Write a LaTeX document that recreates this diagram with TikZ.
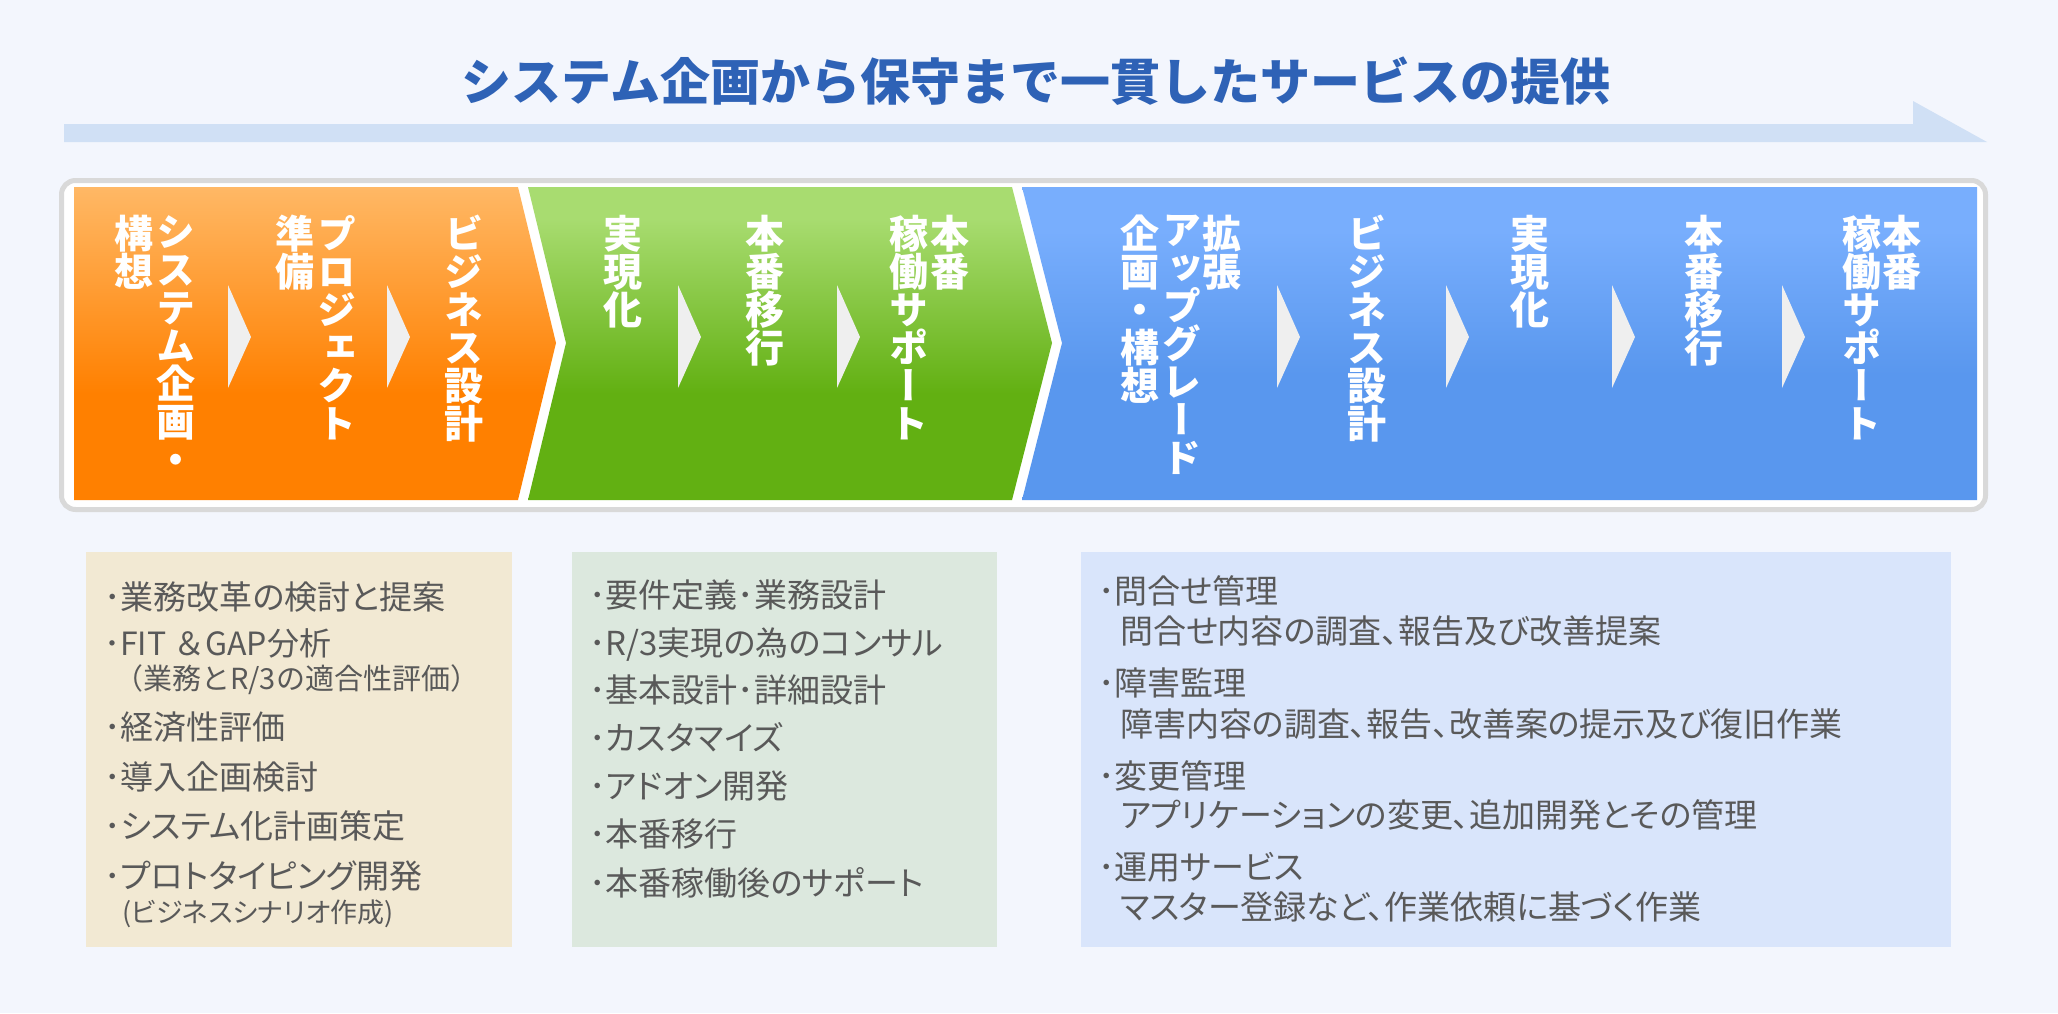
\documentclass[tikz,border=0pt]{standalone}
\usepackage{fontspec}
\setmainfont{Noto Sans CJK JP}
\newfontfamily\vjp{Noto Sans CJK JP}[RawFeature=+vert]
\newfontfamily\memojp{Noto Sans CJK JP}[RawFeature=+palt]

\definecolor{pagebg}{HTML}{F3F6FD}
\definecolor{titleblue}{HTML}{2E62B6}
\definecolor{bandblue}{HTML}{D0E0F5}
\definecolor{framegray}{HTML}{D9D9D9}
\definecolor{chevgray}{HTML}{EFEFEF}
\definecolor{orT}{HTML}{FFB865}
\definecolor{orB}{HTML}{FF8000}
\definecolor{grT}{HTML}{A8DC70}
\definecolor{grB}{HTML}{62B012}
\definecolor{blT}{HTML}{78AEFD}
\definecolor{blB}{HTML}{5997EE}
\definecolor{memoA}{HTML}{F2E9D3}
\definecolor{memoB}{HTML}{DCE8DE}
\definecolor{memoC}{HTML}{D9E5FB}
\definecolor{memotext}{HTML}{595959}

\pgfdeclareverticalshading{orangefade}{100bp}{color(0bp)=(orB); color(42bp)=(orB); color(75bp)=(orT); color(100bp)=(orT)}
\pgfdeclareverticalshading{greenfade}{100bp}{color(0bp)=(grB); color(42bp)=(grB); color(70bp)=(grT); color(100bp)=(grT)}
\pgfdeclareverticalshading{bluefade}{100bp}{color(0bp)=(blB); color(45bp)=(blB); color(68bp)=(blT); color(100bp)=(blT)}

\newcommand{\vstackfont}{\vjp\bfseries\fontsize{39}{38}\selectfont\setlength{\lineskiplimit}{-50pt}}

\tikzset{
    vcol/.style={anchor=north, inner sep=0pt, align=center, text=white, font=\vstackfont},
    memo/.style={anchor=base west, inner sep=0pt, text=memotext, font=\memojp\fontsize{33}{33}\selectfont},
    memosmall/.style={memo, font=\fontsize{29}{29}\selectfont},
    chev/.style={fill=chevgray},
}

\begin{document}
\begin{tikzpicture}[x=1pt, y=-1pt]
    \fill[pagebg] (0,0) rectangle (2058,1013);

    % title and long arrow
    \node[font=\bfseries\fontsize{50}{50}\selectfont, text=titleblue, inner sep=0pt] (title) at (1036,81) {システム企画から保守まで一貫したサービスの提供};
    \fill[bandblue] (64,124) -- (1913,124) -- (1913,101) -- (1987,142) -- (64,142) -- cycle;

    % phase band
    \draw[framegray, line width=5pt, fill=white, rounded corners=14pt] (61.5,180.5) rectangle (1985.5,509.5);
    \shade[shading=orangefade] (74,187) -- (518,187) -- (556,343) -- (518,500) -- (74,500) -- cycle;
    \shade[shading=greenfade] (528,187) -- (1012,187) -- (1052,343) -- (1012,500) -- (528,500) -- (566,343) -- cycle;
    \shade[shading=bluefade] (1022,187) -- (1977,187) -- (1977,500) -- (1022,500) -- (1062,343) -- cycle;

    \foreach \x in {228,387,678,837,1277,1446,1612,1782}
        \fill[chev] (\x,285) -- (\x+23,337) -- (\x,388) -- cycle;

    \node[vcol] (plan) at (176,215) {シ\\ス\\テ\\ム\\企\\画\\・};
    \node[vcol] (plan2) at (134,215) {構\\想};
    \node[vcol] (prep) at (337,215) {プ\\ロ\\ジ\\ェ\\ク\\ト};
    \node[vcol] (prep2) at (295,215) {準\\備};
    \node[vcol] (bizA) at (464,215) {ビ\\ジ\\ネ\\ス\\設\\計};
    \node[vcol] (implA) at (623,215) {実\\現\\化};
    \node[vcol] (moveA) at (765,215) {本\\番\\移\\行};
    \node[vcol] (runA) at (950,215) {本\\番};
    \node[vcol] (runA2) at (909,215) {稼\\働\\サ\\ポ\\ー\\ト};
    \node[vcol] (ext) at (1222,215) {拡\\張};
    \node[vcol] (ext2) at (1182,215) {ア\\ッ\\プ\\グ\\レ\\ー\\ド};
    \node[vcol] (ext3) at (1140,215) {企\\画\\・\\構\\想};
    \node[vcol] (bizB) at (1367,215) {ビ\\ジ\\ネ\\ス\\設\\計};
    \node[vcol] (implB) at (1530,215) {実\\現\\化};
    \node[vcol] (moveB) at (1704,215) {本\\番\\移\\行};
    \node[vcol] (runB) at (1902,215) {本\\番};
    \node[vcol] (runB2) at (1862,215) {稼\\働\\サ\\ポ\\ー\\ト};

    % task lists
    \fill[memoA] (86,552) rectangle (512,947);
    \fill[memoB] (572,552) rectangle (997,947);
    \fill[memoC] (1081,552) rectangle (1951,947);

    \node[memo] (a1) at (104,609) {･業務改革の検討と提案};
    \node[memo, font=\fontsize{32}{32}\selectfont] (a2) at (104,655) {･FIT ＆GAP分析};
    \node[memosmall] (a3) at (114,689) {（業務とR/3の適合性評価）};
    \node[memo] (a4) at (104,739) {･経済性評価};
    \node[memo] (a5) at (104,789) {･導入企画検討};
    \node[memo] (a6) at (104,838) {･システム化計画策定};
    \node[memo] (a7) at (104,888) {･プロトタイピング開発};
    \node[memo, font=\memojp\fontsize{27}{27}\selectfont] (a8) at (122,922) {(ビジネスシナリオ作成)};

    \node[memo] (b1) at (589,607) {･要件定義･業務設計};
    \node[memo] (b2) at (589,655) {･R/3実現の為のコンサル};
    \node[memo] (b3) at (589,702) {･基本設計･詳細設計};
    \node[memo] (b4) at (589,750) {･カスタマイズ};
    \node[memo] (b5) at (589,798) {･アドオン開発};
    \node[memo] (b6) at (589,846) {･本番移行};
    \node[memo] (b7) at (589,895) {･本番稼働後のサポート};

    \node[memo] (c1) at (1098,603) {･問合せ管理};
    \node[memo] (c2) at (1120,643) {問合せ内容の調査、報告及び改善提案};
    \node[memo] (c3) at (1098,695) {･障害監理};
    \node[memo] (c4) at (1120,736) {障害内容の調査、報告、改善案の提示及び復旧作業};
    \node[memo] (c5) at (1098,788) {･変更管理};
    \node[memo] (c6) at (1120,827) {アプリケーションの変更、追加開発とその管理};
    \node[memo] (c7) at (1098,879) {･運用サービス};
    \node[memo] (c8) at (1120,919) {マスター登録など、作業依頼に基づく作業};
\end{tikzpicture}
\end{document}
